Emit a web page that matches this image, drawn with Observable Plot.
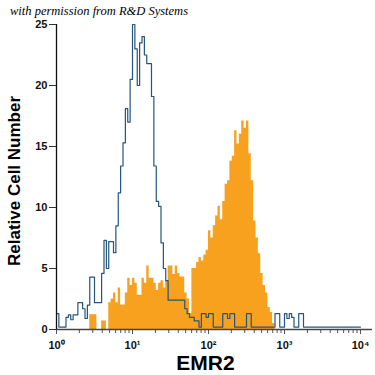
<!DOCTYPE html>
<html><head><meta charset="utf-8">
<script src="https://cdn.jsdelivr.net/npm/d3@7"></script>
<script src="https://cdn.jsdelivr.net/npm/@observablehq/plot@0.6"></script>
<style>
body{margin:0;background:#fff}
#chart{position:relative;width:375px;height:375px}
.title{position:absolute;left:10px;top:4px;font:italic 12.5px "Liberation Serif",serif;color:#000;white-space:nowrap}
</style></head><body>
<div id="chart"><div class="title">with permission from R&amp;D Systems</div></div>
<script>
const binsPerDecade = 32;
const xDecades = [1, 10, 100, 1000, 10000];
const xTickLabels = ["10⁰", "10¹", "10²", "10³", "10⁴"];
const yTicks = [0, 5, 10, 15, 20, 25];
const xLabel = "EMR2";
const yLabel = "Relative Cell Number";

// isotype control (blue outline), one value per 1/32-decade bin from 10^0
const isotype = [
  1.3,0.2,0.2,0.2,1.0,1.2,0.8,1.2,1.2,2.2,
  2.2,1.7,0.9,2.0,4.3,4.3,2.2,2.2,2.2,4.6,
  7.3,5.0,7.2,7.2,6.3,8.5,11.2,13.4,15.3,18.1,
  17.0,20.5,25,23,20,23.5,24,22.5,21.8,21.8,
  19.1,13.4,10.5,10.1,7.1,5.0,4.0,2.4,2.4,2.4,
  2.4,2.4,2.4,2.4,1.7,1.3,1.0,1.0,0.7,0.7,
  0.2,1.3,1.3,1.0,1.3,1.3,0.2,0.2,0.2,0.2,
  1.3,1.3,0.9,1.3,1.3,0.2,0.2,0.2,0.2,0.2,
  1.3,1.3,0.2,0.2,0.2,0.2,0.2,0.2,0.2,0.2,
  0.2,0.2,1.3,1.3,0.2,0.2,1.3,0.9,1.3,1.0,
  0.2,0.2,1.3,1.3,0.2,0.2,0.2,0.2,0.2,0.2,
  0.2,0.2,0.2,0.2,0.2,0.2,0.2,0.2,0.2,0.2,
  0.2,0.2,0.2,0.2,0.2,0.2,0.2,0.2
];
// EMR2 stained (orange filled)
const emr2 = [
  0,0,0,0,0,0,0,0,0,0,
  0,0,0,0,1.2,1.2,1.2,0,0,0.7,
  0.7,0,2.2,2.5,3.0,2.2,3.4,2.0,2.0,3.0,
  4.2,3.6,4.2,3.8,2.8,2.8,4.2,3.8,5.2,4.2,
  4.2,3.8,3.2,3.8,4.0,3.4,4.0,5.2,5.2,4.5,
  5.2,4.6,4.3,4.3,3.0,2.5,1.3,5.0,5.0,5.5,
  5.9,5.6,6.1,6.5,8.1,7.5,8.5,9.3,10.1,9.0,
  10.5,11.9,12.2,13.8,14.2,16.3,15.2,16.0,17.1,16.5,
  17.1,14.4,12.2,8.9,7.5,6.2,4.6,3.6,3.0,1.8,
  1.4,0.5,0,0,0,0,0,0,0,0,
  0,0,0,0,0,0,0,0,0,0,
  0,0,0,0,0,0,0,0,0,0,
  0,0,0,0,0,0,0,0
];

const nBins = isotype.length;
const edges = d3.range(nBins + 1).map(i => 10 ** (i / binsPerDecade));
const toSteps = vals => edges.map((x, i) => ({x, y: vals[Math.min(i, vals.length - 1)]}));
const minorTicks = [];
for (let k = 0; k < 4; k++) for (let m = 2; m <= 9; m++) minorTicks.push(m * 10 ** k);

const labelMap = new Map(xDecades.map((d, i) => [d, xTickLabels[i]]));

const chart = Plot.plot({
  width: 375,
  height: 375,
  marginLeft: 56,
  marginRight: 3,
  marginTop: 24,
  marginBottom: 46,
  style: {fontFamily: "'Liberation Sans', Arial, sans-serif", background: "#fff"},
  x: {type: "log", domain: [1, 10 ** 4.158]},
  y: {domain: [0, 25]},
  marks: [
    Plot.areaY(toSteps(emr2), {x: "x", y: "y", curve: "step-after", fill: "#f7a11e"}),
    Plot.line(toSteps(isotype), {x: "x", y: "y", curve: "step-after", stroke: "#24557e", strokeWidth: 1.2}),
    Plot.axisX({ticks: minorTicks, tickSize: 4, tickFormat: () => "", stroke: "#555", label: null}),
    Plot.axisX({ticks: xDecades, tickSize: 5, tickPadding: 7, tickFormat: d => labelMap.get(d),
      fontSize: 11, fontWeight: "bold", fill: "#111", stroke: "#555", label: null}),
    Plot.axisY({ticks: yTicks, tickSize: 7, tickPadding: 2, fontSize: 11, fontWeight: "bold",
      fill: "#111", stroke: "#333", label: null}),
    Plot.ruleY([0], {stroke: "#444", strokeWidth: 1.3}),
    Plot.ruleX([1], {stroke: "#111", strokeWidth: 1.3}),
    Plot.text([yLabel], {frameAnchor: "left", textAnchor: "middle", lineAnchor: "middle", rotate: -90,
      dx: -42, dy: 4, fontSize: 17, fontWeight: "bold", fill: "#000"}),
    Plot.text([xLabel], {frameAnchor: "bottom", textAnchor: "middle", lineAnchor: "middle",
      dx: -9, dy: 34, fontSize: 21, fontWeight: "bold", fill: "#000"})
  ]
});
document.getElementById("chart").appendChild(chart);
</script>
</body></html>
